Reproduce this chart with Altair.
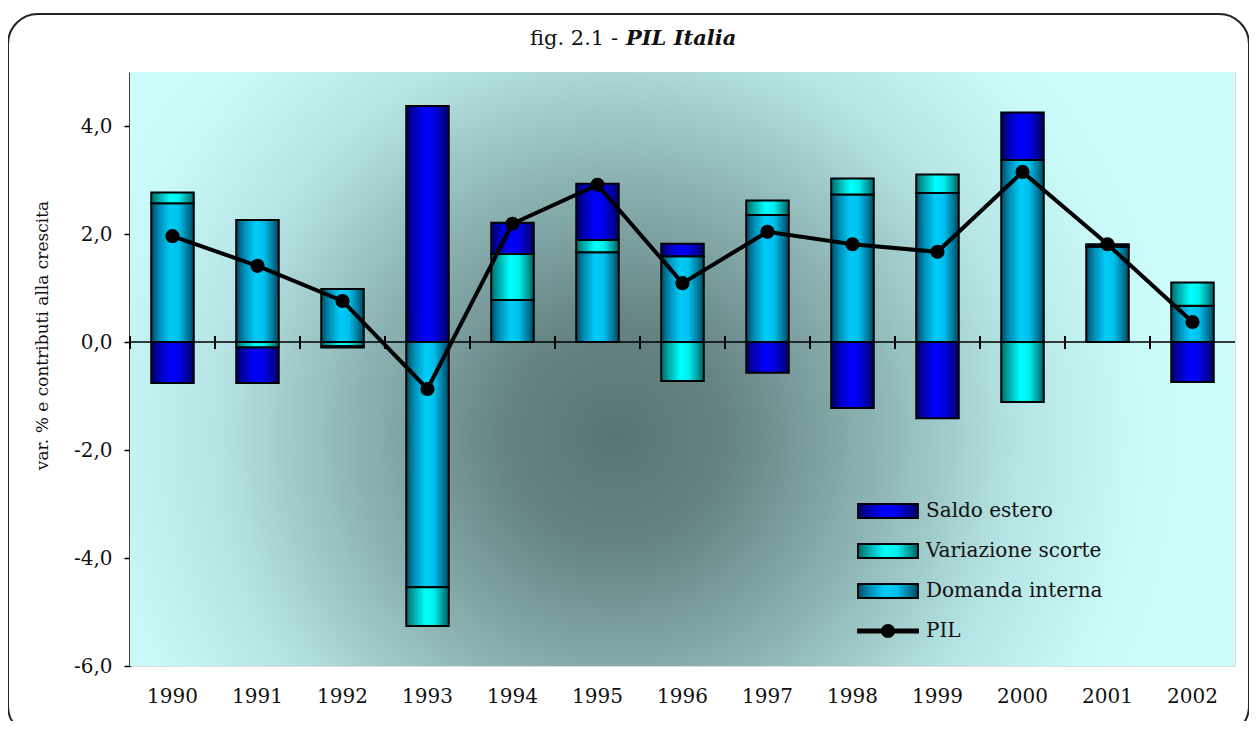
import altair as alt
import pandas as pd

anni = ["1990", "1991", "1992", "1993", "1994", "1995", "1996",
        "1997", "1998", "1999", "2000", "2001", "2002"]
domanda_interna = [2.57, 2.26, 0.98, -4.54, 0.78, 1.66, 1.59, 2.35, 2.73, 2.76, 3.37, 1.77, 0.67]
variazione_scorte = [0.20, -0.10, -0.08, -0.72, 0.85, 0.23, -0.72, 0.27, 0.30, 0.34, -1.11, 0.00, 0.43]
saldo_estero = [-0.76, -0.66, -0.02, 4.37, 0.58, 1.04, 0.23, -0.57, -1.22, -1.41, 0.88, 0.04, -0.74]
pil = [1.96, 1.41, 0.76, -0.87, 2.19, 2.91, 1.09, 2.04, 1.81, 1.67, 3.15, 1.81, 0.37]

serie_nomi = ["Saldo estero", "Variazione scorte", "Domanda interna", "PIL"]
y_ticks = [-6, -4, -2, 0, 2, 4]

SERIF = "DejaVu Serif"

rows = []
for i, a in enumerate(anni):
    rows.append({"anno": a, "serie": "Domanda interna", "valore": domanda_interna[i], "ord": 0})
    rows.append({"anno": a, "serie": "Variazione scorte", "valore": variazione_scorte[i], "ord": 1})
    rows.append({"anno": a, "serie": "Saldo estero", "valore": saldo_estero[i], "ord": 2})
bars_df = pd.DataFrame(rows)
pil_df = pd.DataFrame({"anno": anni, "valore": pil, "serie": "PIL"})
anni_df = pd.DataFrame({"anno": anni})
legend_df = pd.DataFrame({"serie": serie_nomi})


def lin_grad(stops):
    s = ",".join("{offset:%s,color:'%s'}" % (o, c) for o, c in stops)
    return {"expr": "{gradient:'linear',x1:0,y1:0,x2:1,y2:0,stops:[" + s + "]}"}


grad_saldo = lin_grad([(0, "#000066"), (0.2, "#0000b8"), (0.45, "#0000ff"), (0.65, "#0000e8"), (0.9, "#00008a"), (1, "#000060")])
grad_scorte = lin_grad([(0, "#006a6a"), (0.2, "#00b0b0"), (0.45, "#00ffff"), (0.65, "#00f0f0"), (0.9, "#008a8a"), (1, "#006060")])
grad_domanda = lin_grad([(0, "#004c66"), (0.2, "#0090b8"), (0.45, "#00ccf8"), (0.65, "#00c0ec"), (0.9, "#006c8c"), (1, "#00485f")])

color_scale = alt.Scale(domain=serie_nomi, range=[grad_saldo, grad_scorte, grad_domanda, "#000000"])
stroke_scale = alt.Scale(domain=serie_nomi, range=["#000000", "#000000", "#000000", "#000000"])
shape_scale = alt.Scale(
    domain=serie_nomi,
    range=[
        "M-3,-0.7H3V0.7H-3Z",
        "M-3,-0.7H3V0.7H-3Z",
        "M-3,-0.7H3V0.7H-3Z",
        "M-3,-0.15H3V0.15H-3Z M-0.62,0A0.62,0.62,0,1,1,0.62,0A0.62,0.62,0,1,1,-0.62,0Z",
    ],
)

legend_spec = alt.Legend(
    title=None, orient="none", legendX=747, legendY=428, padding=0,
    symbolSize=400, symbolStrokeColor="#000", symbolStrokeWidth=1.8, symbolOpacity=1,
    labelFont=SERIF, labelFontSize=20, labelColor="#111",
    labelOffset=27, rowPadding=18, labelLimit=400,
)

W, H = 1105, 594

x_scale = alt.Scale(paddingInner=0, paddingOuter=0)
x_axis = alt.Axis(title=None, labelAngle=0, ticks=False, domain=False, labelPadding=20,
                  labelFont=SERIF, labelFontSize=20, labelColor="#111")
y_scale = alt.Scale(domain=[-6, 5], nice=False, zero=False)
y_axis = alt.Axis(
    title="var. % e contributi alla crescita", titleFont=SERIF, titleFontSize=17,
    titleFontWeight="normal", titleColor="#111", titlePadding=22, titleY=263,
    values=y_ticks, grid=False, domainColor="#000", domainWidth=2.5,
    tickColor="#000", tickWidth=1.5, tickSize=6, labelPadding=12,
    labelFont=SERIF, labelFontSize=20, labelColor="#111",
    labelExpr="replace(replace(format(datum.value, '.1f'), '.', ','), '\u2212', '-')",
)

one = alt.InlineData(values=[{"k": 1}])

background = alt.Chart(one).mark_rect(
    fill={
        "gradient": "radial", "x1": 0.44, "y1": 0.56, "r1": 0,
        "x2": 0.44, "y2": 0.56, "r2": 0.52,
        "stops": [
            {"offset": 0, "color": "#5a7474"},
            {"offset": 0.2, "color": "#668484"},
            {"offset": 0.45, "color": "#8cb3b3"},
            {"offset": 0.7, "color": "#b6e4e4"},
            {"offset": 0.9, "color": "#c8f8f8"},
            {"offset": 1, "color": "#ccfcfc"},
        ],
    }
).encode(x=alt.value(0), x2=alt.value("width"), y=alt.value(0), y2=alt.value("height"))

zero_line = alt.Chart(one).mark_rule(color="#000", strokeWidth=1.5).encode(y=alt.datum(0, scale=y_scale))

ticks = alt.Chart(anni_df).mark_rule(color="#000", strokeWidth=2).encode(
    x=alt.X("anno:O", bandPosition=0, scale=x_scale, axis=x_axis),
    y=alt.datum(0.11),
    y2=alt.datum(-0.13),
)

bars = alt.Chart(bars_df).mark_bar(
    width=alt.RelativeBandSize(0.5), stroke="#000", strokeWidth=2
).encode(
    x=alt.X("anno:O", scale=x_scale, axis=x_axis),
    y=alt.Y("valore:Q", stack="zero", scale=y_scale, axis=y_axis),
    color=alt.Color("serie:N", scale=color_scale, legend=legend_spec),
    order=alt.Order("ord:Q"),
)

line = alt.Chart(pil_df).mark_line(
    color="#000", strokeWidth=4,
    point=alt.OverlayMarkDef(filled=True, color="#000", size=200),
).encode(
    x=alt.X("anno:O", scale=x_scale, axis=x_axis),
    y=alt.Y("valore:Q", scale=y_scale),
)

legend_layer = alt.Chart(legend_df).transform_filter("false").mark_point(
    filled=True, strokeWidth=1.8
).encode(
    color=alt.Color("serie:N", scale=color_scale, legend=legend_spec),
    shape=alt.Shape("serie:N", scale=shape_scale, legend=legend_spec),
    stroke=alt.Stroke("serie:N", scale=stroke_scale, legend=legend_spec),
)

title_a = alt.Chart(one).mark_text(
    text="fig. 2.1 -", font=SERIF, fontSize=21, align="right", baseline="middle", color="#111"
).encode(x=alt.value(488), y=alt.value(-33))
title_b = alt.Chart(one).mark_text(
    text="PIL Italia", font=SERIF, fontSize=21, fontStyle="italic", fontWeight="bold",
    align="left", baseline="middle", color="#111"
).encode(x=alt.value(496), y=alt.value(-33))

frame = alt.Chart(one).mark_rect(
    fill=None, stroke="#222", strokeWidth=2, cornerRadius=30
).encode(x=alt.value(-122), x2=alt.value(1119), y=alt.value(-58), y2=alt.value(664))

chart = alt.layer(
    background, zero_line, ticks, bars, line, legend_layer, title_a, title_b, frame
).properties(
    width=W, height=H,
    autosize=alt.AutoSizeParams(type="none"),
    padding={"left": 122, "top": 64, "right": 14, "bottom": 55},
).configure_view(stroke="#222", strokeWidth=1.5).configure(background="white")

chart.save("out.html", embed_options={"renderer": "svg", "actions": False})
